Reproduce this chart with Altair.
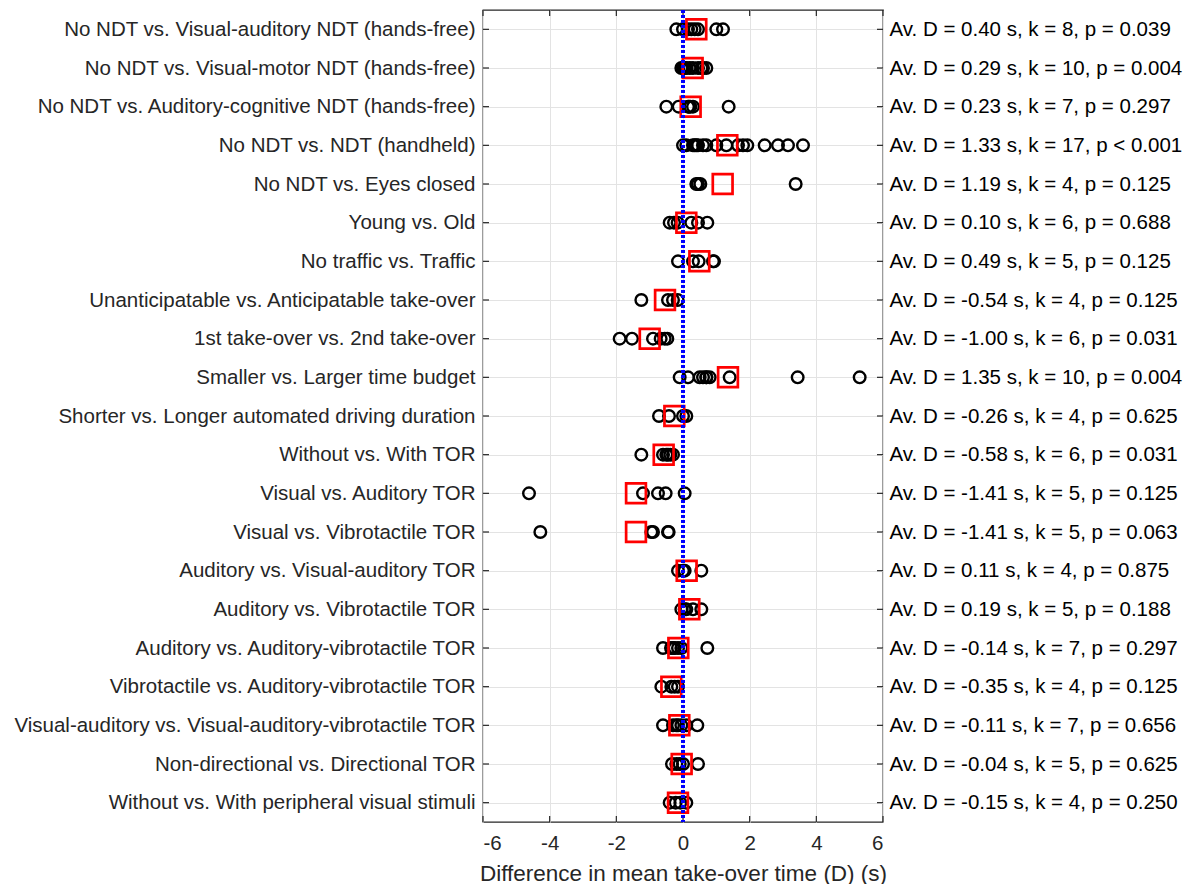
import altair as alt
import pandas as pd

categories = [
    "No NDT vs.  Visual-auditory NDT (hands-free)",
    "No NDT vs. Visual-motor NDT (hands-free)",
    "No NDT vs. Auditory-cognitive NDT (hands-free)",
    "No NDT vs. NDT (handheld)",
    "No NDT vs. Eyes closed ",
    "Young vs. Old",
    "No traffic vs. Traffic",
    "Unanticipatable vs. Anticipatable take-over",
    "1st take-over vs. 2nd take-over",
    "Smaller  vs. Larger time budget",
    "Shorter vs. Longer automated driving duration",
    "Without vs. With TOR",
    "Visual vs. Auditory TOR",
    "Visual vs. Vibrotactile TOR",
    "Auditory vs. Visual-auditory TOR",
    "Auditory vs. Vibrotactile TOR",
    "Auditory vs. Auditory-vibrotactile TOR",
    "Vibrotactile vs. Auditory-vibrotactile TOR",
    "Visual-auditory vs. Visual-auditory-vibrotactile TOR",
    "Non-directional vs. Directional TOR",
    "Without vs. With peripheral visual stimuli",
]

stats = [
    "Av. D = 0.40 s, k = 8, p = 0.039",
    "Av. D = 0.29 s, k = 10, p = 0.004",
    "Av. D = 0.23 s, k = 7, p = 0.297",
    "Av. D = 1.33 s, k = 17, p < 0.001",
    "Av. D = 1.19 s, k = 4, p = 0.125",
    "Av. D = 0.10 s, k = 6, p = 0.688",
    "Av. D = 0.49 s, k = 5, p = 0.125",
    "Av. D = -0.54 s, k = 4, p = 0.125",
    "Av. D = -1.00 s, k = 6, p = 0.031",
    "Av. D = 1.35 s, k = 10, p = 0.004",
    "Av. D = -0.26 s, k = 4, p = 0.625",
    "Av. D = -0.58 s, k = 6, p = 0.031",
    "Av. D = -1.41 s, k = 5, p = 0.125",
    "Av. D = -1.41 s, k = 5, p = 0.063",
    "Av. D = 0.11 s, k = 4, p = 0.875",
    "Av. D = 0.19 s, k = 5, p = 0.188",
    "Av. D = -0.14 s, k = 7, p = 0.297",
    "Av. D = -0.35 s, k = 4, p = 0.125",
    "Av. D = -0.11 s, k = 7, p = 0.656",
    "Av. D = -0.04 s, k = 5, p = 0.625",
    "Av. D = -0.15 s, k = 4, p = 0.250",
]

means = [0.40, 0.29, 0.23, 1.33, 1.19, 0.10, 0.49, -0.54, -1.00, 1.35, -0.26,
         -0.58, -1.41, -1.41, 0.11, 0.19, -0.14, -0.35, -0.11, -0.04, -0.15]

study_values = [
    [-0.2, 0.0, 0.15, 0.25, 0.35, 0.45, 1.0, 1.2],
    [-0.05, 0.0, 0.05, 0.1, 0.2, 0.3, 0.45, 0.55, 0.6, 0.7],
    [-0.5, -0.13, 0.15, 0.18, 0.22, 0.3, 1.37],
    [0.0, 0.1, 0.3, 0.35, 0.4, 0.45, 0.6, 0.7, 1.0, 1.3, 1.65, 1.8, 1.93, 2.45, 2.85, 3.15, 3.6],
    [0.4, 0.45, 0.52, 3.38],
    [-0.4, -0.27, -0.16, 0.25, 0.45, 0.73],
    [-0.15, 0.3, 0.47, 0.9, 0.93],
    [-1.25, -0.45, -0.3, -0.16],
    [-1.9, -1.53, -0.9, -0.67, -0.55, -0.47],
    [-0.1, 0.15, 0.5, 0.6, 0.7, 0.7, 0.8, 1.4, 3.44, 5.3],
    [-0.72, -0.42, 0.0, 0.1],
    [-1.25, -0.6, -0.5, -0.45, -0.38, -0.3],
    [-4.62, -1.2, -0.75, -0.52, 0.05],
    [-4.28, -0.95, -0.9, -0.45, -0.43],
    [-0.15, 0.0, 0.05, 0.55],
    [-0.05, 0.05, 0.1, 0.3, 0.55],
    [-0.6, -0.36, -0.3, -0.25, -0.15, -0.05, 0.73],
    [-0.65, -0.35, -0.25, -0.15],
    [-0.6, -0.3, -0.2, -0.15, -0.05, 0.1, 0.43],
    [-0.33, -0.2, -0.1, 0.0, 0.45],
    [-0.4, -0.22, -0.08, 0.1],
]

x_ticks = [-6, -4, -2, 0, 2, 4, 6]

FONT = "Liberation Sans"
W, H = 400, 812

pts = pd.DataFrame(
    [{"cat": c, "D": v} for c, vals in zip(categories, study_values) for v in vals]
)
summ = pd.DataFrame({"cat": categories, "stat": stats, "mean": means})
xt = pd.DataFrame({"xv": x_ticks})

xscale = alt.Scale(domain=[-6, 6], nice=False, zero=False)
yscale = alt.Scale(type="point", padding=0.5)

x_bottom = alt.X(
    "D:Q", scale=xscale,
    axis=alt.Axis(values=x_ticks, title="Difference in mean take-over time (D) (s)",
                  labelExpr="'' + datum.value",
                  grid=True, gridColor="#e3e3e3", tickSize=0, domain=False,
                  labelFontSize=20.5, labelColor="#262626", labelFont=FONT,
                  labelPadding=11, titleFontSize=22.5, titleColor="#262626",
                  titleFont=FONT, titleFontWeight="normal", titlePadding=9),
)
y_left = alt.Y(
    "cat:N", sort=categories, scale=yscale,
    axis=alt.Axis(title=None, grid=True, gridColor="#e3e3e3", tickSize=0,
                  domain=False, labelFontSize=20.5, labelColor="#262626",
                  labelFont=FONT, labelPadding=8, labelLimit=0),
)

circles = alt.Chart(pts).mark_point(
    shape="circle", filled=False, stroke="black", strokeWidth=2.4, size=135, opacity=1
).encode(x=x_bottom, y=y_left)

squares = alt.Chart(summ).mark_point(
    shape="square", filled=False, stroke="#ff0000", strokeWidth=2.7, size=390, opacity=1
).encode(x=alt.X("mean:Q", scale=xscale), y=alt.Y("cat:N", sort=categories, scale=yscale))

zero_line = alt.Chart(summ).mark_rule(
    color="#0000ff", strokeDash=[3, 2], strokeWidth=2.6
).encode(x=alt.datum(0, scale=xscale))

tick_col = "#262626"
left_ticks = alt.Chart(summ).mark_rule(color=tick_col, strokeWidth=1.2).encode(
    y=alt.Y("cat:N", sort=categories, scale=yscale), x=alt.value(0), x2=alt.value(6))
right_ticks = alt.Chart(summ).mark_rule(color=tick_col, strokeWidth=1.2).encode(
    y=alt.Y("cat:N", sort=categories, scale=yscale), x=alt.value(W - 6), x2=alt.value(W))
bottom_ticks = alt.Chart(xt).mark_rule(color=tick_col, strokeWidth=1.2).encode(
    x=alt.X("xv:Q", scale=xscale), y=alt.value(H), y2=alt.value(H - 6))
top_ticks = alt.Chart(xt).mark_rule(color=tick_col, strokeWidth=1.2).encode(
    x=alt.X("xv:Q", scale=xscale), y=alt.value(0), y2=alt.value(6))

main = alt.layer(left_ticks, right_ticks, bottom_ticks, top_ticks,
                 circles, squares, zero_line)

right_layer = alt.Chart(summ).mark_point(opacity=0).encode(
    x=alt.X("mean:Q", scale=xscale,
            axis=alt.Axis(orient="top", labels=False, ticks=False, domain=False,
                          grid=False, title=None)),
    y=alt.Y("stat:N", sort=stats, scale=yscale,
            axis=alt.Axis(orient="right", title=None, grid=False, tickSize=0,
                          domain=False, labelFontSize=20.5, labelColor="black",
                          labelFont=FONT, labelPadding=6, labelLimit=0)),
)

chart = alt.layer(main, right_layer).resolve_scale(
    x="independent", y="independent"
).properties(
    width=W, height=H,
    padding={"left": 5, "top": 0, "right": 2, "bottom": 0},
    background="white",
).configure_view(stroke="#262626", strokeWidth=1.3)

chart.save("out.html", embed_options={"renderer": "svg", "actions": False})
